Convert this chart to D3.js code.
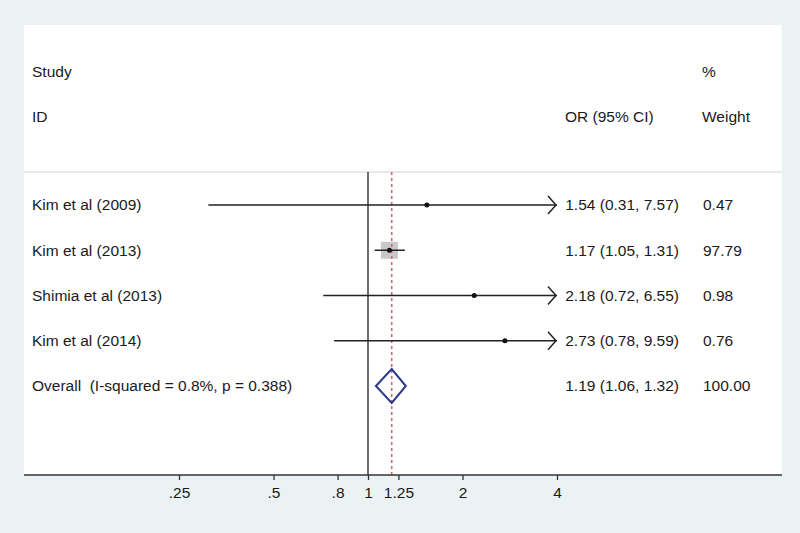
<!DOCTYPE html>
<html>
<head>
<meta charset="utf-8">
<script src="https://cdn.jsdelivr.net/npm/d3@7"></script>
<style>
  body { margin: 0; background: #eaf2f4; }
  svg { display: block; font-family: "Liberation Sans", Arial, Helvetica, sans-serif; }
  svg text { white-space: pre; }
</style>
</head>
<body>
<div id="forest"></div>
<script>
const width = 800, height = 533;

// data
const studies = ["Kim et al (2009)", "Kim et al (2013)", "Shimia et al (2013)", "Kim et al (2014)"];
const or = [1.54, 1.17, 2.18, 2.73];
const lower = [0.31, 1.05, 0.72, 0.78];
const upper = [7.57, 1.31, 6.55, 9.59];
const weight = [0.47, 97.79, 0.98, 0.76];

const overallLabel = "Overall  (I-squared = 0.8%, p = 0.388)";
const overall = { or: 1.19, lo: 1.06, hi: 1.32, w: 100.00 };

const tickValues = [0.25, 0.5, 0.8, 1, 1.25, 2, 4];
const tickLabels = [".25", ".5", ".8", "1", "1.25", "2", "4"];

const panel = { left: 24, right: 782, top: 25, bottom: 475 };
const headerLine = 172;
const fs = 15.5;

const svg = d3.select("#forest")
  .append("svg")
  .attr("width", width)
  .attr("height", height);

svg.append("rect")
  .attr("x", panel.left).attr("y", panel.top)
  .attr("width", panel.right - panel.left)
  .attr("height", panel.bottom - panel.top)
  .attr("fill", "white");

const x = d3.scaleLog()
  .domain([0.25, 4])
  .range([179, 557]);

const y = d3.scaleLinear()
  .domain([0, 4])
  .range([205, 386]);

const size = d3.scaleSqrt()
  .domain([0, 97.79])
  .range([0, 17]);

const rows = studies.map((s, i) => ({
  study: s, or: or[i], lo: lower[i], hi: upper[i], w: weight[i], i: i
}));

const fmt = d3.format(".2f");
const clip = v => Math.max(x.domain()[0], Math.min(x.domain()[1], v));

// header line
svg.append("line")
  .attr("x1", panel.left).attr("x2", panel.right)
  .attr("y1", headerLine).attr("y2", headerLine)
  .attr("stroke", "#e0e0e0")
  .attr("stroke-width", 1.5);

// headers
const hdr = svg.append("g").attr("font-size", fs).attr("fill", "#1a1a1a");
hdr.append("text").attr("x", 32).attr("y", 72).attr("dy", "0.35em").text("Study");
hdr.append("text").attr("x", 32).attr("y", 117).attr("dy", "0.35em").text("ID");
hdr.append("text").attr("x", 565).attr("y", 117).attr("dy", "0.35em").text("OR (95% CI)");
hdr.append("text").attr("x", 702).attr("y", 72).attr("dy", "0.35em").text("%");
hdr.append("text").attr("x", 702).attr("y", 117).attr("dy", "0.35em").text("Weight");

// null line at 1
svg.append("line")
  .attr("x1", x(1)).attr("x2", x(1))
  .attr("y1", headerLine).attr("y2", panel.bottom)
  .attr("stroke", "#333")
  .attr("stroke-width", 1.4);

// weight squares
svg.append("g")
  .selectAll("rect")
  .data(rows)
  .join("rect")
  .attr("x", d => x(d.or) - size(d.w) / 2)
  .attr("y", d => y(d.i) - size(d.w) / 2)
  .attr("width", d => size(d.w))
  .attr("height", d => size(d.w))
  .attr("fill", "#c8c8c8");

// overall effect line
svg.append("line")
  .attr("x1", x(overall.or)).attr("x2", x(overall.or))
  .attr("y1", headerLine).attr("y2", panel.bottom)
  .attr("stroke", "#d06a6a")
  .attr("stroke-width", 1.6)
  .attr("stroke-dasharray", "3,3");

// confidence intervals
svg.append("g")
  .selectAll("line")
  .data(rows)
  .join("line")
  .attr("x1", d => x(clip(d.lo)))
  .attr("x2", d => x(clip(d.hi)))
  .attr("y1", d => y(d.i))
  .attr("y2", d => y(d.i))
  .attr("stroke", "#222")
  .attr("stroke-width", 1.5);

// arrows for clipped CIs
svg.append("g")
  .selectAll("path")
  .data(rows.filter(d => d.hi > x.domain()[1]))
  .join("path")
  .attr("d", d => {
    const tx = x(clip(d.hi)) - 1, ty = y(d.i);
    return `M${tx - 8},${ty - 9}L${tx},${ty}L${tx - 8},${ty + 9}`;
  })
  .attr("fill", "none")
  .attr("stroke", "#222")
  .attr("stroke-width", 1.5);

// point estimates
svg.append("g")
  .selectAll("circle")
  .data(rows)
  .join("circle")
  .attr("cx", d => x(d.or))
  .attr("cy", d => y(d.i))
  .attr("r", 2.5)
  .attr("fill", "#111");

// overall diamond
const oy = y(4);
svg.append("path")
  .attr("d", `M${x(overall.lo)},${oy}L${x(overall.or)},${oy - 17}L${x(overall.hi)},${oy}L${x(overall.or)},${oy + 17}Z`)
  .attr("fill", "none")
  .attr("stroke", "#2b3a8f")
  .attr("stroke-width", 2);

// text columns
const all = rows.concat([{ study: overallLabel, or: overall.or, lo: overall.lo, hi: overall.hi, w: overall.w, i: 4 }]);
const txt = svg.append("g").attr("font-size", fs).attr("fill", "#1a1a1a");

txt.selectAll(".lbl")
  .data(all)
  .join("text")
  .attr("class", "lbl")
  .attr("x", 32)
  .attr("y", d => y(d.i))
  .attr("dy", "0.35em")
  .text(d => d.study);

txt.selectAll(".ci")
  .data(all)
  .join("text")
  .attr("class", "ci")
  .attr("x", 679)
  .attr("y", d => y(d.i))
  .attr("dy", "0.35em")
  .attr("text-anchor", "end")
  .text(d => `${fmt(d.or)} (${fmt(d.lo)}, ${fmt(d.hi)})`);

txt.selectAll(".wt")
  .data(all)
  .join("text")
  .attr("class", "wt")
  .attr("x", 703)
  .attr("y", d => y(d.i))
  .attr("dy", "0.35em")
  .text(d => fmt(d.w));

// axis
svg.append("line")
  .attr("x1", panel.left).attr("x2", panel.right)
  .attr("y1", panel.bottom).attr("y2", panel.bottom)
  .attr("stroke", "#333")
  .attr("stroke-width", 1.5);

const axis = svg.append("g")
  .attr("transform", `translate(0,${panel.bottom})`)
  .call(d3.axisBottom(x)
    .tickValues(tickValues)
    .tickFormat((d, i) => tickLabels[i])
    .tickSize(5)
    .tickPadding(7));

axis.select(".domain").remove();
axis.selectAll(".tick line").attr("stroke", "#333").attr("stroke-width", 1.3);
axis.selectAll(".tick text")
  .attr("font-size", fs)
  .attr("font-family", "Liberation Sans, Arial, sans-serif")
  .attr("fill", "#1a1a1a");
</script>
</body>
</html>
